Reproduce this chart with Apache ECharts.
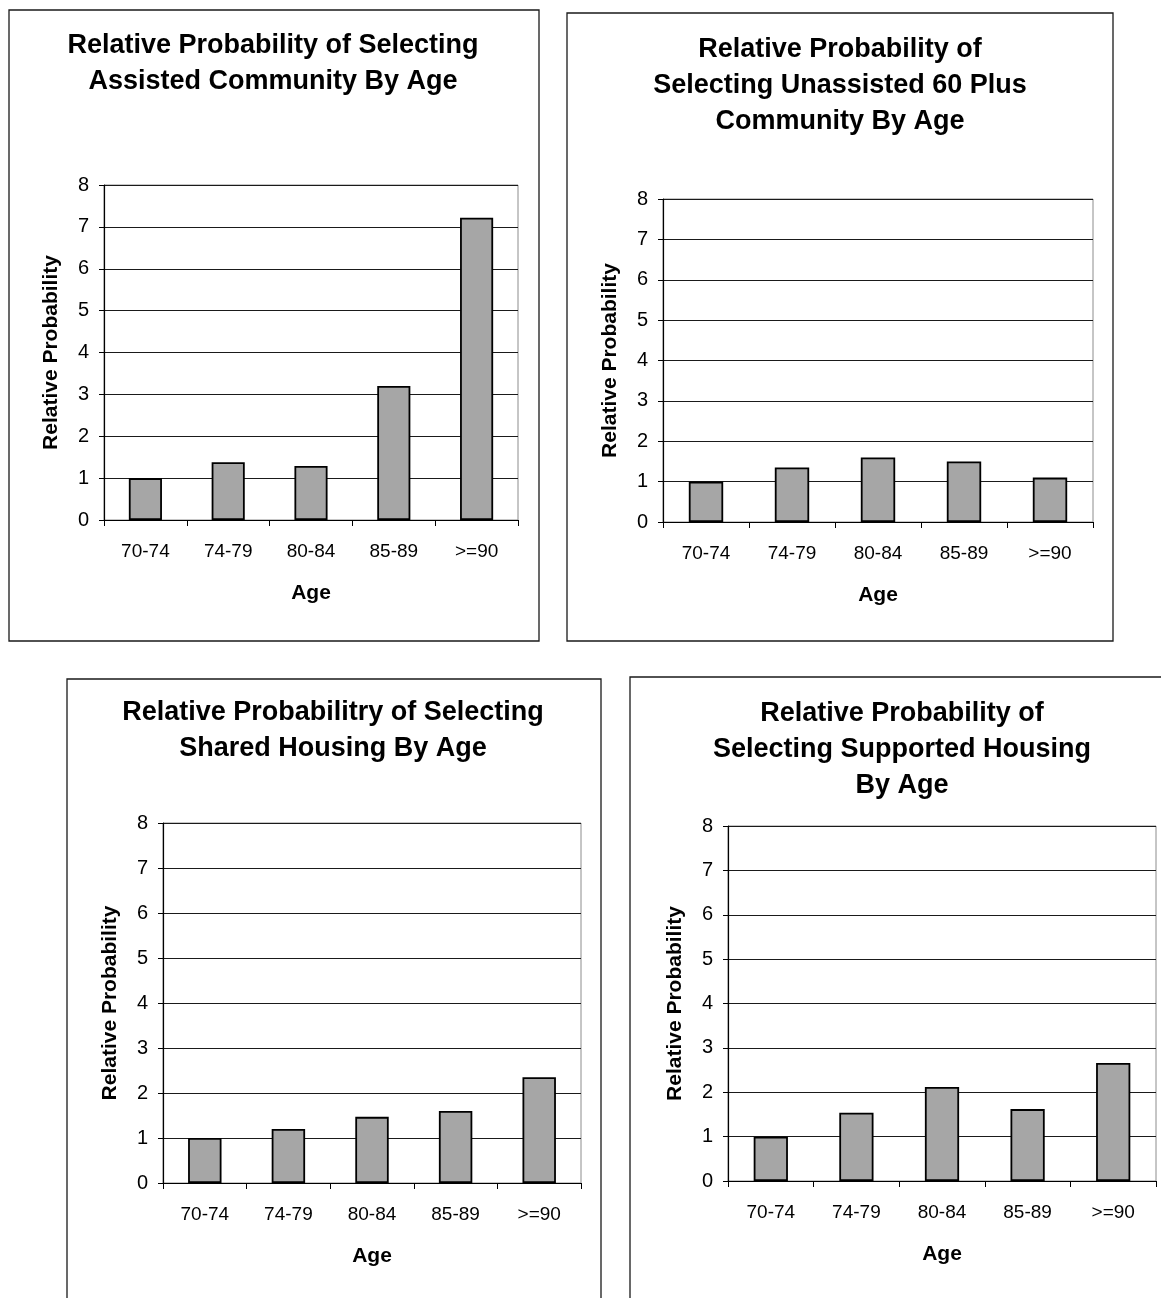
<!DOCTYPE html>
<html>
<head>
<meta charset="utf-8">
<script src="https://cdn.jsdelivr.net/npm/echarts@6/dist/echarts.min.js"></script>
<style>
  html, body { margin: 0; padding: 0; background: #fff; }
  #chart { width: 1161px; height: 1298px; }
</style>
</head>
<body>
<div id="chart"></div>
<script>
// Age groups shared by all four charts
const ageGroups = ['70-74', '74-79', '80-84', '85-89', '>=90'];

// Relative probability per age group, one array per housing type
const assistedCommunity = [1.0, 1.38, 1.29, 3.2, 7.22];
const unassistedCommunity = [1.0, 1.35, 1.6, 1.5, 1.1];
const sharedHousing = [1.0, 1.2, 1.47, 1.6, 2.35];
const supportedHousing = [1.0, 1.54, 2.12, 1.62, 2.66];

const panelTitles = [
  'Relative Probability of Selecting\nAssisted Community By Age',
  'Relative Probability of\nSelecting Unassisted 60 Plus\nCommunity By Age',
  'Relative Probabilitry of Selecting\nShared Housing By Age',
  'Relative Probability of\nSelecting Supported Housing\nBy Age'
];
const seriesData = [assistedCommunity, unassistedCommunity, sharedHousing, supportedHousing];

// Layout of each panel: frame, plot area and title placement
const panels = [
  { box: [9, 10, 530, 631],   grid: [104, 185, 414, 335], titleX: 273, titleY: 28 },
  { box: [567, 13, 546, 628], grid: [663, 199, 430, 323], titleX: 840, titleY: 32 },
  { box: [67, 679, 534, 640], grid: [163, 823, 418, 360], titleX: 333, titleY: 695 },
  { box: [630, 677, 560, 640], grid: [728, 826, 428, 355], titleX: 902, titleY: 696 }
];

const FONT = '"Liberation Sans", Arial, Helvetica, sans-serif';

const grids = [], xAxes = [], yAxes = [], series = [], graphics = [];

panels.forEach((p, i) => {
  graphics.push({
    type: 'rect',
    shape: { x: p.box[0], y: p.box[1], width: p.box[2], height: p.box[3] },
    style: { fill: 'none', stroke: '#1a1a1a', lineWidth: 1.3 },
    z: 0
  });
  graphics.push({
    type: 'text',
    x: p.titleX,
    y: p.titleY,
    style: {
      text: panelTitles[i],
      font: 'bold 27px ' + FONT,
      fill: '#000',
      textAlign: 'center',
      textVerticalAlign: 'top',
      lineHeight: 36
    },
    z: 10
  });

  grids.push({
    left: p.grid[0], top: p.grid[1], width: p.grid[2], height: p.grid[3],
    show: true, borderColor: '#8c8c8c', borderWidth: 1, backgroundColor: '#fff'
  });

  xAxes.push({
    type: 'category',
    gridIndex: i,
    data: ageGroups,
    boundaryGap: true,
    name: 'Age',
    nameLocation: 'middle',
    nameGap: 63,
    nameTextStyle: { fontFamily: FONT, fontWeight: 'bold', fontSize: 21, color: '#000' },
    axisLine: { show: true, lineStyle: { color: '#000', width: 1.2 } },
    axisTick: { show: true, length: 6, alignWithLabel: false, lineStyle: { color: '#000' } },
    axisLabel: { fontFamily: FONT, fontSize: 19, color: '#000', margin: 22 },
    splitLine: { show: false }
  });

  yAxes.push({
    type: 'value',
    gridIndex: i,
    min: 0,
    max: 8,
    interval: 1,
    name: 'Relative Probability',
    nameLocation: 'middle',
    nameGap: 42,
    nameRotate: 90,
    nameTextStyle: { fontFamily: FONT, fontWeight: 'bold', fontSize: 21, color: '#000' },
    axisLine: { show: true, lineStyle: { color: '#000', width: 1.2 } },
    axisTick: { show: true, length: 5, lineStyle: { color: '#000' } },
    axisLabel: { fontFamily: FONT, fontSize: 20, color: '#000', margin: 15 },
    splitLine: { show: true, lineStyle: { color: '#1a1a1a', width: 1 } }
  });

  series.push({
    type: 'bar',
    xAxisIndex: i,
    yAxisIndex: i,
    data: seriesData[i],
    barWidth: '40%',
    itemStyle: { color: '#a6a6a6', borderColor: '#000', borderWidth: 1.8 },
    z: 3
  });
});

const chart = echarts.init(document.getElementById('chart'), null, { renderer: 'canvas' });
chart.setOption({
  animation: false,
  backgroundColor: '#fff',
  grid: grids,
  xAxis: xAxes,
  yAxis: yAxes,
  series: series,
  graphic: graphics
});
</script>
</body>
</html>
